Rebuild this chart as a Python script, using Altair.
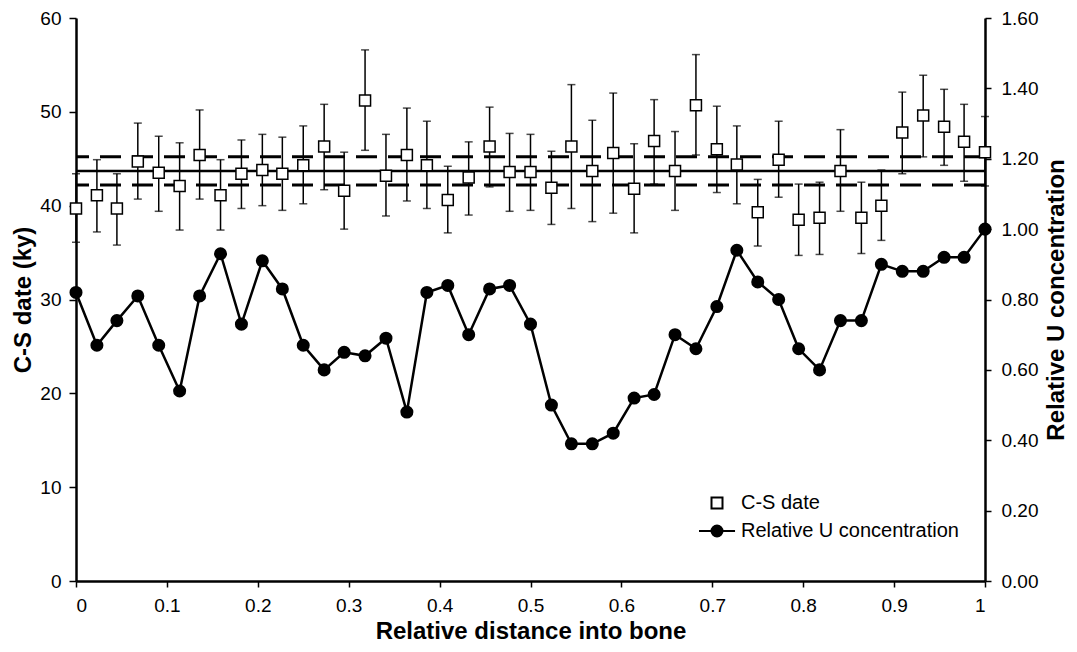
import altair as alt
import pandas as pd

# ---- data ----
x_pos = [0.0, 0.023, 0.045, 0.068, 0.091, 0.114, 0.136, 0.159, 0.182, 0.205,
         0.227, 0.25, 0.273, 0.295, 0.318, 0.341, 0.364, 0.386, 0.409, 0.432,
         0.455, 0.477, 0.5, 0.523, 0.545, 0.568, 0.591, 0.614, 0.636, 0.659,
         0.682, 0.705, 0.727, 0.75, 0.773, 0.795, 0.818, 0.841, 0.864, 0.886,
         0.909, 0.932, 0.955, 0.977, 1.0]
cs_date = [39.7, 41.1, 39.7, 44.7, 43.5, 42.1, 45.4, 41.1, 43.4, 43.8,
           43.4, 44.3, 46.3, 41.6, 51.2, 43.2, 45.4, 44.3, 40.6, 43.0,
           46.3, 43.6, 43.6, 41.9, 46.3, 43.7, 45.6, 41.8, 46.9, 43.7,
           50.7, 46.0, 44.4, 39.3, 44.9, 38.5, 38.7, 43.7, 38.7, 40.0,
           47.8, 49.6, 48.4, 46.8, 45.7]
cs_hi = [43.4, 44.9, 43.4, 48.8, 47.4, 46.7, 50.2, 44.9, 47.0, 47.6,
         47.3, 48.5, 50.8, 45.7, 56.6, 47.6, 50.4, 49.0, 44.2, 46.8,
         50.5, 47.7, 47.6, 45.8, 52.9, 49.1, 52.0, 46.6, 51.3, 47.9,
         56.1, 50.6, 48.5, 42.8, 49.0, 42.3, 42.5, 48.1, 42.5, 43.8,
         52.1, 53.9, 52.4, 50.8, 49.5]
cs_lo = [36.1, 37.2, 35.8, 40.7, 39.4, 37.4, 40.7, 37.4, 39.7, 40.0,
         39.5, 40.2, 41.7, 37.5, 45.9, 38.9, 40.5, 39.7, 37.1, 39.0,
         42.0, 39.4, 39.5, 38.0, 39.7, 38.3, 39.2, 37.1, 42.3, 39.5,
         45.4, 41.4, 40.2, 35.7, 40.9, 34.7, 34.8, 39.4, 34.9, 36.3,
         43.4, 45.2, 44.3, 42.6, 42.1]
rel_u = [0.82, 0.67, 0.74, 0.81, 0.67, 0.54, 0.81, 0.93, 0.73, 0.91,
         0.83, 0.67, 0.60, 0.65, 0.64, 0.69, 0.48, 0.82, 0.84, 0.70,
         0.83, 0.84, 0.73, 0.50, 0.39, 0.39, 0.42, 0.52, 0.53, 0.70,
         0.66, 0.78, 0.94, 0.85, 0.80, 0.66, 0.60, 0.74, 0.74, 0.90,
         0.88, 0.88, 0.92, 0.92, 1.00]
ref_mean = [43.7]
ref_band = [45.2, 42.2]

x_ticks = [0, 0.1, 0.2, 0.3, 0.4, 0.5, 0.6, 0.7, 0.8, 0.9, 1]
left_ticks = [0, 10, 20, 30, 40, 50, 60]
right_ticks = [0, 0.2, 0.4, 0.6, 0.8, 1.0, 1.2, 1.4, 1.6]
series_names = ["C-S date", "Relative U concentration"]

FONT = "Liberation Sans"

df = pd.DataFrame({"x": x_pos, "cs": cs_date, "hi": cs_hi, "lo": cs_lo,
                   "u": rel_u, "series": series_names[0]})

xenc = alt.X("x:Q", scale=alt.Scale(domain=[0, 1], nice=False, zero=False),
             axis=alt.Axis(values=x_ticks, format=".1~f",
                           title="Relative distance into bone",
                           titleY=57, titleBaseline="alphabetic",
                           tickSize=6, labelPadding=9))

yleft_scale = alt.Scale(domain=[0, 60], nice=False)
yleft_axis = alt.Axis(values=left_ticks, format="d", title="C-S date (ky)",
                      titleAngle=270, titleX=-46, titleY=281.5,
                      titleBaseline="alphabetic", tickSize=7, labelPadding=8)


def yl(field):
    return alt.Y(field, scale=yleft_scale, axis=yleft_axis)


base = alt.Chart(df)

ref_solid = alt.Chart(pd.DataFrame({"y": ref_mean})).mark_rule(
    color="black", strokeWidth=2.5).encode(y=yl("y:Q"))
ref_dash = alt.Chart(pd.DataFrame({"y": ref_band})).mark_rule(
    color="black", strokeWidth=3, strokeDash=[21, 11]).encode(y=yl("y:Q"))

err = base.mark_rule(color="black", strokeWidth=1.5).encode(
    x=xenc, y=yl("lo:Q"), y2="hi:Q")
cap_hi = base.mark_tick(orient="horizontal", size=8, thickness=1.5,
                        color="black").encode(x=xenc, y=yl("hi:Q"))
cap_lo = base.mark_tick(orient="horizontal", size=8, thickness=1.5,
                        color="black").encode(x=xenc, y=yl("lo:Q"))

square_path = "M-0.5,-0.5L0.5,-0.5L0.5,0.5L-0.5,0.5Z"
linedot_path = ("M-1.64,0L-0.5,0A0.5,0.5 0 1,1 0.5,0"
                "A0.5,0.5 0 1,1 -0.5,0M0.5,0L1.64,0")

leg = alt.Legend(title=None, orient="none", legendX=623, legendY=471,
                 symbolSize=484, symbolOffset=6, labelOffset=12,
                 clipHeight=28, rowPadding=0, padding=0,
                 labelFontSize=20, labelFont=FONT, labelColor="black",
                 labelLimit=400, symbolStrokeColor="black",
                 symbolStrokeWidth=2)

squares = base.mark_point(filled=True, strokeWidth=1.5,
                          size=484, opacity=1).encode(
    x=xenc, y=yl("cs:Q"),
    shape=alt.Shape("series:N",
                    scale=alt.Scale(domain=series_names,
                                    range=[square_path, linedot_path]),
                    legend=leg),
    fill=alt.Fill("series:N",
                  scale=alt.Scale(domain=series_names,
                                  range=["white", "black"]),
                  legend=leg),
    stroke=alt.Stroke("series:N",
                      scale=alt.Scale(domain=series_names,
                                      range=["black", "black"]),
                      legend=leg))

left = alt.layer(ref_dash, ref_solid, err, cap_hi, cap_lo, squares)

yright = alt.Y("u:Q", scale=alt.Scale(domain=[0, 1.6], nice=False),
               axis=alt.Axis(orient="right", values=right_ticks, format=".2f",
                             title="Relative U concentration",
                             titleAngle=270, titleX=78, titleY=281.5,
                             titleBaseline="alphabetic", tickSize=6,
                             labelPadding=10))

uline = base.mark_line(color="black", strokeWidth=2.5).encode(x=xenc, y=yright)
upts = base.mark_circle(color="black", size=170, opacity=1).encode(x=xenc, y=yright)
right = alt.layer(uline, upts)

chart = alt.layer(left, right).resolve_scale(y="independent").properties(
    width=909, height=563,
    autosize=alt.AutoSizeParams(type="none"),
    padding={"left": 68, "top": 10, "right": 84, "bottom": 63},
).configure_view(stroke=None).configure_axis(
    grid=False, domainColor="black", domainWidth=2.5,
    tickColor="black", tickWidth=1.5,
    labelFont=FONT, labelFontSize=19, labelColor="black",
    titleFont=FONT, titleFontSize=24, titleFontWeight="bold",
    titleColor="black",
)

chart.save("out.html", embed_options={"renderer": "svg", "actions": False})
